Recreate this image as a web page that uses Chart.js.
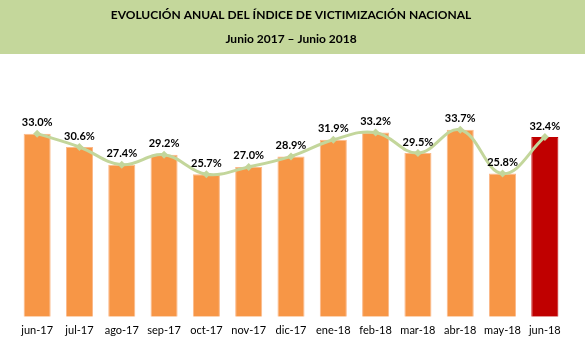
<!DOCTYPE html>
<html>
<head>
<meta charset="utf-8">
<script src="https://cdn.jsdelivr.net/npm/chart.js@4/dist/chart.umd.min.js"></script>
<style>
html,body{margin:0;padding:0;background:#fff;}
#wrap{width:585px;height:356px;position:relative;}
</style>
</head>
<body>
<div id="wrap"><canvas id="c" width="585" height="356"></canvas></div>
<script>
const categories = ["jun-17","jul-17","ago-17","sep-17","oct-17","nov-17","dic-17","ene-18","feb-18","mar-18","abr-18","may-18","jun-18"];
const victimizacion = [33.0,30.6,27.4,29.2,25.7,27.0,28.9,31.9,33.2,29.5,33.7,25.8,32.4];
const titleText = "EVOLUCIÓN ANUAL DEL ÍNDICE DE VICTIMIZACIÓN NACIONAL";
const subtitleText = "Junio 2017 – Junio 2018";

const FONT = "Lato, 'Open Sans', sans-serif";
const barColors = victimizacion.map((v,i)=> i===victimizacion.length-1 ? "#c00000" : "#f79646");
const barBorders = victimizacion.map((v,i)=> i===victimizacion.length-1 ? "#c00000" : "#fbb98a");

const bannerPlugin = {
  id:'banner',
  beforeDraw(chart){
    const ctx = chart.ctx;
    ctx.save();
    ctx.fillStyle = "#c4d79b";
    ctx.fillRect(0,0,chart.width,54);
    ctx.restore();
  }
};

const labelPlugin = {
  id:'valueLabels',
  afterDatasetsDraw(chart){
    const ctx = chart.ctx;
    const meta = chart.getDatasetMeta(0);
    ctx.save();
    ctx.font = "bold 11px " + FONT;
    ctx.fillStyle = "#000";
    ctx.textAlign = "center";
    ctx.textBaseline = "middle";
    meta.data.forEach((bar,i)=>{
      ctx.fillText(victimizacion[i].toFixed(1)+"%", bar.x, bar.y - 11);
    });
    ctx.restore();
  }
};

new Chart(document.getElementById('c'), {
  data:{
    labels: categories,
    datasets:[
      {
        type:'bar',
        data: victimizacion,
        backgroundColor: barColors,
        borderColor: barBorders,
        borderWidth: 1,
        categoryPercentage: 1,
        barPercentage: 0.64,
        order: 2
      },
      {
        type:'line',
        data: victimizacion,
        borderColor: "#c3d69b",
        backgroundColor: "#c3d69b",
        borderWidth: 3,
        tension: 0.4,
        pointStyle: 'rectRot',
        pointRadius: 4,
        pointBorderWidth: 0,
        order: 1
      }
    ]
  },
  options:{
    responsive:false,
    animation:false,
    layout:{padding:{left:16,right:19,top:0,bottom:12}},
    plugins:{
      legend:{display:false},
      tooltip:{enabled:false},
      title:{display:true,text:titleText,color:"#000",font:{family:FONT,size:12,weight:'bold'},padding:{top:8,bottom:5}},
      subtitle:{display:true,text:subtitleText,color:"#000",font:{family:FONT,size:12,weight:'bold'},padding:{top:5,bottom:48}}
    },
    scales:{
      x:{
        grid:{display:false,drawTicks:false},
        border:{display:false},
        ticks:{color:"#000",font:{family:FONT,size:11},padding:7,maxRotation:0,autoSkip:false}
      },
      y:{display:false,min:0,max:40}
    }
  },
  plugins:[bannerPlugin,labelPlugin]
});
</script>
</body>
</html>
